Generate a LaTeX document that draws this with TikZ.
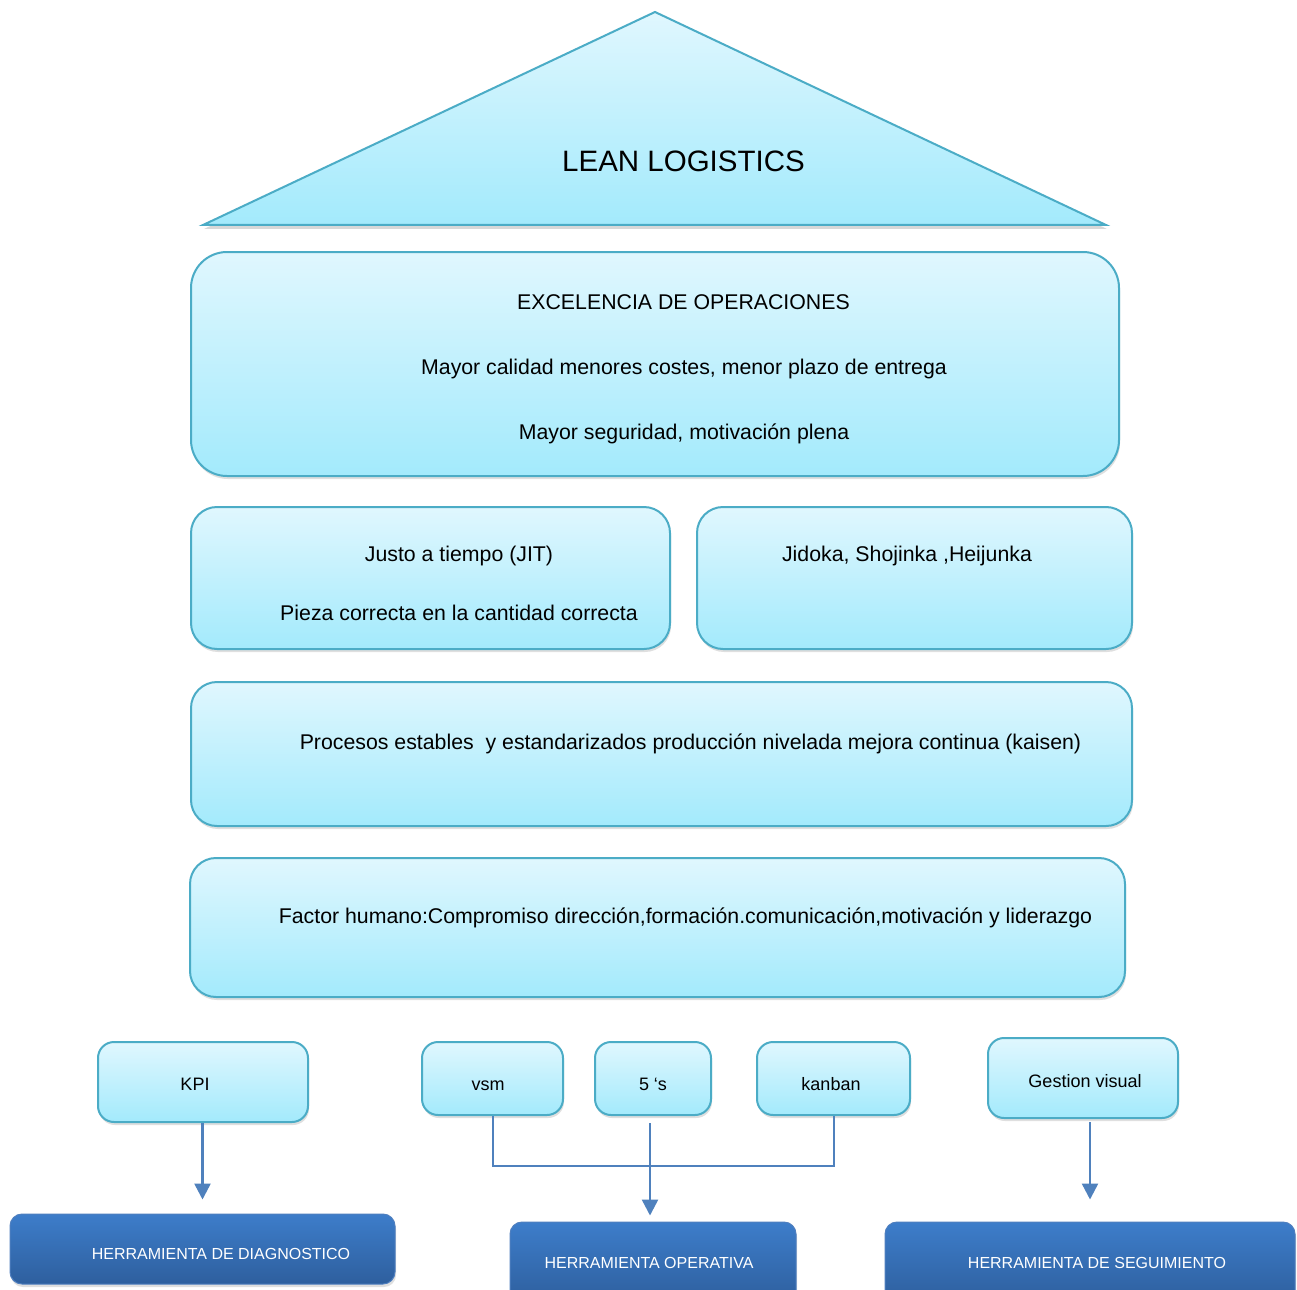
\documentclass[tikz,border=0pt]{standalone}
\usepackage{fontspec}
\setmainfont{Liberation Sans}
\usetikzlibrary{shadows,arrows.meta,calc}
\definecolor{ltop}{HTML}{E0F7FE}
\definecolor{lbot}{HTML}{A3EAFC}
\definecolor{lborder}{HTML}{4BACC6}
\definecolor{dtop}{HTML}{3D7DCA}
\definecolor{dbot}{HTML}{2E5F9E}
\definecolor{dborder}{HTML}{4F7FBF}
\definecolor{arrc}{HTML}{4F81BD}
\begin{document}
\begin{tikzpicture}[x=1pt,y=-1pt,
  lbox/.style={draw=lborder, line width=2pt, top color=ltop, bottom color=lbot,
    inner sep=0pt, drop shadow={opacity=0.25, shadow xshift=1pt, shadow yshift=-3pt}},
  dbox/.style={draw=dborder, line width=1pt, top color=dtop, bottom color=dbot,
    rounded corners=12pt, inner sep=0pt,
    drop shadow={opacity=0.25, shadow xshift=1pt, shadow yshift=-3pt}},
  txt/.style={inner sep=0pt, font=\fontsize{21.3}{25}\selectfont, anchor=base},
  stxt/.style={inner sep=0pt, font=\fontsize{18}{22}\selectfont, anchor=base},
  wtxt/.style={inner sep=0pt, font=\fontsize{16}{19}\selectfont, text=white, anchor=base},
  conn/.style={draw=arrc, line width=2pt},
  arr/.style={draw=arrc, line width=2.5pt, -{Triangle[width=16pt,length=16pt]}}
]
\useasboundingbox (0,0) rectangle (1297,1289);
\fill[white] (0,0) rectangle (1297,1289);
\clip (0,0) rectangle (1297,1289);

% roof
\coordinate (apex) at (655,12);
\coordinate (bl) at (203,225);
\coordinate (br) at (1106,225);
\path[draw=lborder, line width=2pt, top color=ltop, bottom color=lbot,
  drop shadow={opacity=0.3, shadow xshift=1pt, shadow yshift=-4pt}]
  (bl) -- (apex) -- (br) -- cycle;
\node[inner sep=0pt, anchor=base, font=\fontsize{29.5}{34}\selectfont] (lean) at (683.5,172) {LEAN LOGISTICS};

% excelencia
\node[lbox, rounded corners=36pt, minimum width=928pt, minimum height=224pt] (exc) at (655,364) {};
\node[txt] (exc1) at (683.5,309) {EXCELENCIA DE OPERACIONES};
\node[txt] (exc2) at (684,374.5) {Mayor calidad menores costes, menor plazo de entrega};
\node[txt] (exc3) at (684,439) {Mayor seguridad, motivación plena};

% JIT
\node[lbox, rounded corners=26pt, minimum width=479pt, minimum height=142pt] (jit) at (430.5,578) {};
\node[txt] (jit1) at (459,561) {Justo a tiempo (JIT)};
\node[txt] (jit2) at (459,620) {Pieza correcta en la cantidad correcta};

% Jidoka
\node[lbox, rounded corners=26pt, minimum width=435pt, minimum height=142pt] (jid) at (914.5,578) {};
\node[txt] (jid1) at (907,561) {Jidoka, Shojinka ,Heijunka};

% procesos
\node[lbox, rounded corners=26pt, minimum width=941pt, minimum height=144pt] (proc) at (661.5,754) {};
\node[txt] (proc1) at (690.5,749) {Procesos estables\ \ y estandarizados producción nivelada mejora continua (kaisen)};

% factor humano
\node[lbox, rounded corners=26pt, minimum width=935pt, minimum height=139pt] (fac) at (657.5,927.5) {};
\node[txt] (fac1) at (685.5,923) {Factor humano:Compromiso dirección,formación.comunicación,motivación y liderazgo};

% small boxes
\node[lbox, rounded corners=16pt, minimum width=210pt, minimum height=80pt] (kpi) at (203,1082) {};
\node[stxt] (kpit) at (195,1090.7) {KPI};
\node[lbox, rounded corners=16pt, minimum width=141pt, minimum height=73pt] (vsm) at (492.5,1078.5) {};
\node[stxt] (vsmt) at (488,1090.7) {vsm};
\node[lbox, rounded corners=16pt, minimum width=116pt, minimum height=73pt] (five) at (653,1078.5) {};
\node[stxt] (fivet) at (653,1090.7) {5 ‘s};
\node[lbox, rounded corners=16pt, minimum width=153pt, minimum height=73pt] (kan) at (833.5,1078.5) {};
\node[stxt] (kant) at (831,1090.7) {kanban};
\node[lbox, rounded corners=16pt, minimum width=190pt, minimum height=80pt] (gv) at (1083,1078) {};
\node[stxt] (gvt) at (1085,1087.5) {Gestion visual};

% dark boxes
\node[dbox, minimum width=385pt, minimum height=70pt] (diag) at (202.5,1249) {};
\node[wtxt] (diagt) at (221,1259) {HERRAMIENTA DE DIAGNOSTICO};
\node[dbox, minimum width=286pt, minimum height=80pt] (oper) at (653,1262) {};
\node[wtxt] (opert) at (649,1268) {HERRAMIENTA OPERATIVA};
\node[dbox, minimum width=410pt, minimum height=80pt] (seg) at (1090,1262) {};
\node[wtxt] (segt) at (1097,1268) {HERRAMIENTA DE SEGUIMIENTO};

% connectors
\coordinate (join) at (650,1166);
\draw[conn] (vsm.south) |- (join) -| (kan.south);
\draw[arr, shorten >=14pt] (kpi.south -| diag.north) -- (diag.north);
\draw[arr, shorten <=7pt, shorten >=6pt] (five.south -| join) -- (join |- oper.north);
\draw[arr, shorten <=3pt, shorten >=22pt] (gv.south -| seg.north) -- (seg.north);
\end{tikzpicture}
\end{document}
